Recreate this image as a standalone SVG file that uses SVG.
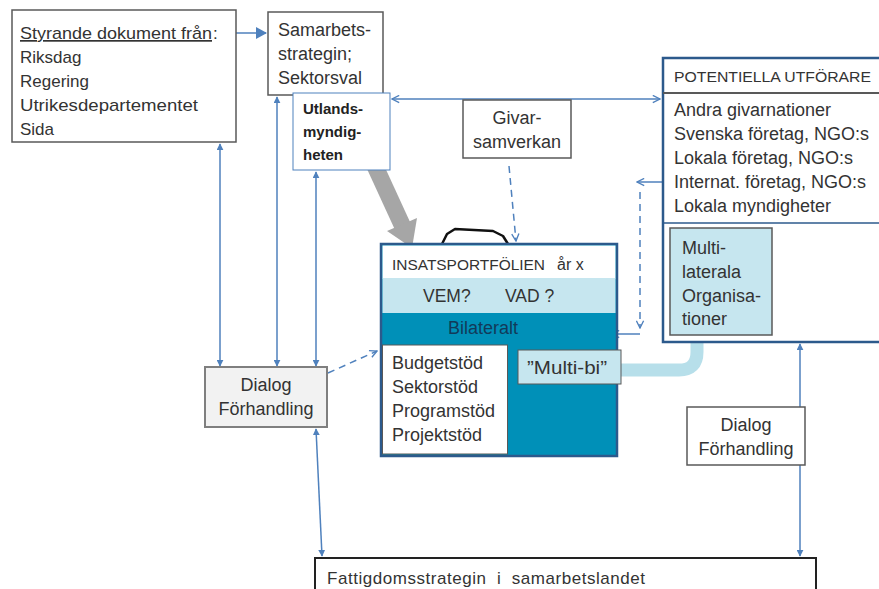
<svg xmlns="http://www.w3.org/2000/svg" width="879" height="589" viewBox="0 0 879 589">
<defs>
<style>
text{font-family:"Liberation Sans",Arial,sans-serif;fill:#333;font-size:18px}
.box{fill:#fff;stroke:#595959;stroke-width:1.5}
.ln{stroke:#4f81bd;stroke-width:1.5;fill:none}
.dash{stroke:#4f81bd;stroke-width:1.5;fill:none;stroke-dasharray:7 5}
</style>
<marker id="af" viewBox="0 0 10 10" refX="9" refY="5" markerWidth="7" markerHeight="7" orient="auto-start-reverse" markerUnits="userSpaceOnUse"><path d="M0,0 L10,5 L0,10 z" fill="#4f81bd"/></marker>
<marker id="ao" viewBox="0 0 10 10" refX="9" refY="5" markerWidth="9" markerHeight="9" orient="auto-start-reverse" markerUnits="userSpaceOnUse"><path d="M1,1 L9,5 L1,9" fill="none" stroke="#4f81bd" stroke-width="1.5"/></marker>
<marker id="ab" viewBox="0 0 12 12" refX="10" refY="6" markerWidth="12" markerHeight="12" orient="auto-start-reverse" markerUnits="userSpaceOnUse"><path d="M0,0 L11,6 L0,12 z" fill="#4f81bd"/></marker>
</defs>

<g id="connectors">
<line class="ln" x1="236" y1="33" x2="266" y2="33" marker-end="url(#ab)"/>
<line class="ln" x1="392" y1="99" x2="660" y2="99" marker-start="url(#ao)" marker-end="url(#ao)"/>
<line class="ln" x1="220" y1="144" x2="220" y2="366" marker-start="url(#af)" marker-end="url(#af)"/>
<line class="ln" x1="277" y1="97" x2="277" y2="366" marker-start="url(#af)" marker-end="url(#af)"/>
<line class="ln" x1="316" y1="172" x2="316" y2="366" marker-start="url(#af)" marker-end="url(#af)"/>
<line class="ln" x1="316" y1="429" x2="322" y2="556" marker-start="url(#af)" marker-end="url(#af)"/>
<line class="ln" x1="800" y1="344" x2="800" y2="556" marker-start="url(#af)" marker-end="url(#af)"/>
<line class="dash" x1="509" y1="166" x2="516" y2="241" marker-end="url(#ao)"/>
<line class="dash" x1="328" y1="373" x2="377" y2="351" marker-end="url(#ao)"/>
<line class="ln" x1="663" y1="182" x2="637" y2="182" marker-end="url(#ao)"/>
<line class="dash" x1="640" y1="192" x2="640" y2="328" marker-end="url(#ao)"/>
<line class="ln" x1="640" y1="334" x2="612" y2="334" marker-end="url(#ao)"/>
<path d="M697,335 V352 Q697,370 679,370 H620" fill="none" stroke="#b7dfea" stroke-width="13"/>
<g id="big-arrow">
<line x1="375" y1="166" x2="403" y2="227" stroke="#a6a6a6" stroke-width="17"/>
<path d="M387,231 L417,218 L412,248 z" fill="#a6a6a6"/>
</g>
</g>

<g id="styrande">
<rect class="box" x="12" y="10" width="224" height="132"/>
<text x="20" y="39" style="font-size:17px;text-decoration:underline" textLength="192" lengthAdjust="spacingAndGlyphs">Styrande dokument från</text><text x="213" y="39" style="font-size:17px">:</text>
<text x="20" y="63" style="font-size:17px">Riksdag</text>
<text x="20" y="87" style="font-size:17px">Regering</text>
<text x="20" y="111" style="font-size:17px" textLength="178" lengthAdjust="spacingAndGlyphs">Utrikesdepartementet</text>
<text x="20" y="135" style="font-size:17px">Sida</text>
</g>

<g id="samarbets">
<rect class="box" x="268" y="12" width="115" height="83"/>
<text x="278" y="36">Samarbets-</text>
<text x="278" y="60">strategin;</text>
<text x="278" y="84">Sektorsval</text>
</g>

<g id="utlands">
<rect x="293" y="93" width="97" height="77" fill="#fff" stroke="#4f81bd" stroke-width="1"/>
<text x="303" y="114" style="font-size:15px;font-weight:bold;fill:#222">Utlands-</text>
<text x="303" y="137" style="font-size:15px;font-weight:bold;fill:#222">myndig-</text>
<text x="303" y="160" style="font-size:15px;font-weight:bold;fill:#222">heten</text>
</g>

<g id="givar">
<rect class="box" x="463" y="100" width="108" height="58"/>
<text x="517" y="124" text-anchor="middle">Givar-</text>
<text x="517" y="148" text-anchor="middle">samverkan</text>
</g>

<g id="potentiella">
<rect x="663" y="58" width="220" height="284" fill="#fff" stroke="#2c5a8c" stroke-width="2.5"/>
<line x1="663" y1="93" x2="879" y2="93" stroke="#595959" stroke-width="2"/>
<line x1="663" y1="223" x2="879" y2="223" stroke="#2c5a8c" stroke-width="1.5"/>
<text x="674" y="82" style="font-size:15.5px" textLength="197" lengthAdjust="spacingAndGlyphs">POTENTIELLA UTFÖRARE</text>
<text x="674" y="116">Andra givarnationer</text>
<text x="674" y="140">Svenska företag, NGO:s</text>
<text x="674" y="164">Lokala företag, NGO:s</text>
<text x="674" y="188">Internat. företag, NGO:s</text>
<text x="674" y="212">Lokala myndigheter</text>
</g>

<g id="multilaterala">
<rect x="670" y="228" width="102" height="107" fill="#c6e6ef" stroke="#595959" stroke-width="1.5"/>
<text x="682" y="254">Multi-</text>
<text x="682" y="278">laterala</text>
<text x="682" y="302">Organisa-</text>
<text x="682" y="325">tioner</text>
</g>

<g id="portfolj">
<path d="M442,244 L447,234 L455,229 L493,231 L503,236 L508,244" fill="none" stroke="#111" stroke-width="2.5" stroke-linejoin="round"/>
<rect x="381" y="244" width="236" height="212" fill="#0090b8" stroke="#2c5a8c" stroke-width="2.5"/>
<rect x="382.5" y="245.5" width="233" height="33" fill="#fff"/>
<rect x="382.5" y="278" width="233" height="35" fill="#c6e6ef"/>
<text x="392" y="270" style="font-size:15.5px" textLength="153" lengthAdjust="spacingAndGlyphs">INSATSPORTFÖLIEN</text><text x="557" y="270" style="font-size:16px">år x</text>
<text x="423" y="302" style="font-size:17.5px">VEM?</text>
<text x="505" y="302" style="font-size:17.5px">VAD ?</text>
<text x="448" y="334" style="fill:#123a5a">Bilateralt</text>
<rect x="382.5" y="345" width="125" height="109" fill="#fff" stroke="#595959" stroke-width="1"/>
<text x="392" y="369">Budgetstöd</text>
<text x="392" y="393">Sektorstöd</text>
<text x="392" y="417">Programstöd</text>
<text x="392" y="441">Projektstöd</text>
</g>

<g id="multibi">
<rect x="518" y="350" width="103" height="34" fill="#c6e6ef" stroke="#595959" stroke-width="1"/>
<text x="527" y="374" textLength="80" lengthAdjust="spacingAndGlyphs">”Multi-bi”</text>
</g>

<g id="dialog-left">
<rect x="205" y="367" width="122" height="60" fill="#f2f2f2" stroke="#7f7f7f" stroke-width="2"/>
<text x="266" y="391" text-anchor="middle">Dialog</text>
<text x="266" y="415" text-anchor="middle">Förhandling</text>
</g>

<g id="dialog-right">
<rect x="687" y="407" width="118" height="58" fill="#fff" stroke="#595959" stroke-width="1.5"/>
<text x="746" y="431" text-anchor="middle">Dialog</text>
<text x="746" y="455" text-anchor="middle">Förhandling</text>
</g>

<g id="fattigdom">
<rect x="315" y="558" width="501" height="40" fill="#fff" stroke="#222" stroke-width="2"/>
<text x="327" y="584" style="font-size:17px" textLength="318" lengthAdjust="spacing" xml:space="preserve">Fattigdomsstrategin  i  samarbetslandet</text>
</g>
</svg>
